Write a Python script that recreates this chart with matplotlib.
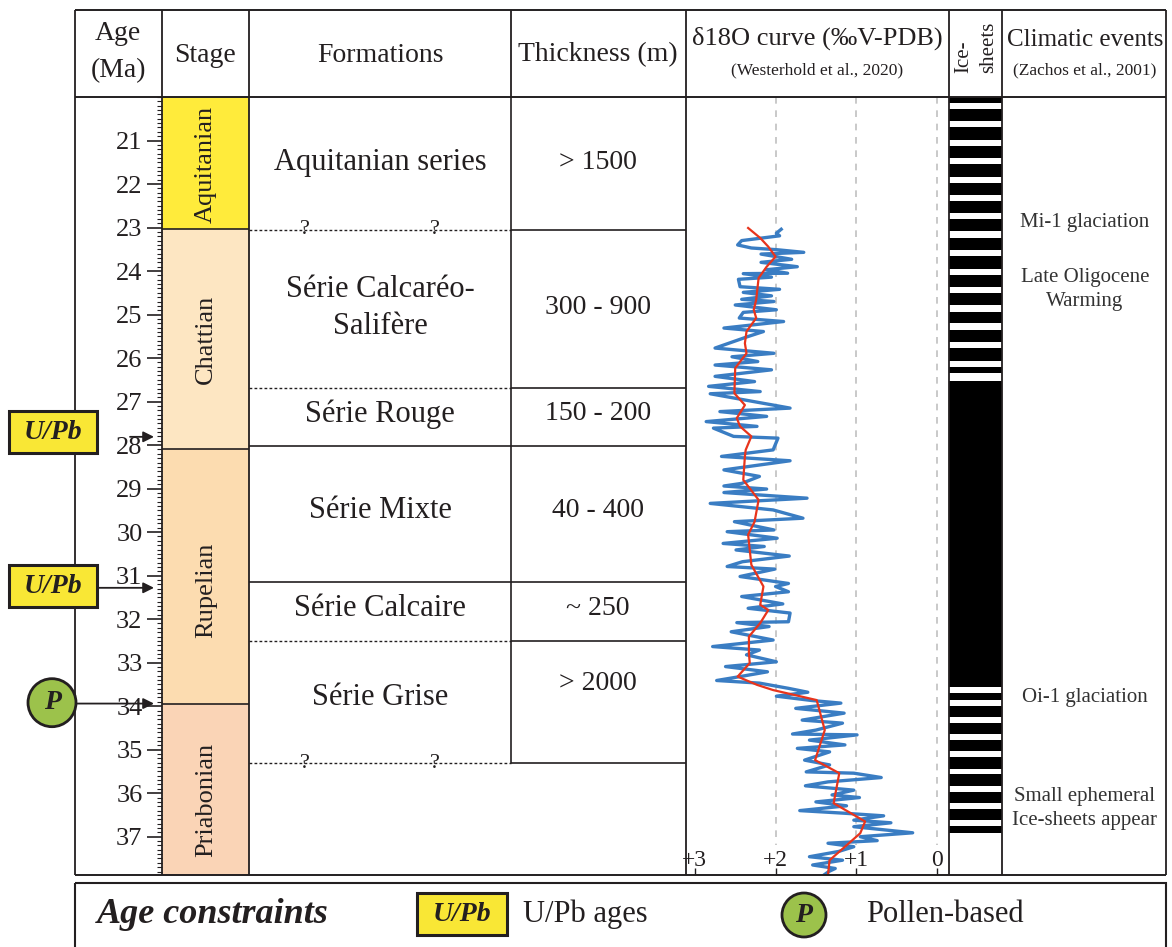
import matplotlib
matplotlib.use('Agg')
import matplotlib.pyplot as plt
from matplotlib.patches import Rectangle, Circle
from matplotlib.ticker import MultipleLocator

plt.rcParams['font.family'] = ['Liberation Serif', 'DejaVu Serif']
INK = '#231f20'

# ---- data -------------------------------------------------------------
stage_names = ['Aquitanian', 'Chattian', 'Rupelian', 'Priabonian']
stage_top = [20.0, 23.03, 28.1, 33.95]
stage_base = [23.03, 28.1, 33.95, 37.88]
stage_label_age = [21.55, 25.58, 31.33, 36.16]
stage_colors = ['#ffeb3b', '#fde6c2', '#fcdcb0', '#fad4b6']

formation_names = ['Aquitanian series', 'Série Calcaréo-\nSalifère', 'Série Rouge',
                   'Série Mixte', 'Série Calcaire', 'Série Grise']
formation_label_age = [21.51, 24.85, 27.28, 29.51, 31.76, 33.81]
thickness = ['> 1500', '300 - 900', '150 - 200', '40 - 400', '~ 250', '> 2000']
thickness_label_age = [21.51, 24.83, 27.28, 29.51, 31.76, 33.47]
formation_bounds = [23.05, 26.69, 28.03, 31.14, 32.50, 35.31]
bound_certain = [False, False, True, True, False, False]
uncertain_bounds = [23.05, 35.31]

age_ticks = list(range(21, 38))

# d18O, Westerhold et al. 2020
d18o_age = [23.04, 23.13, 23.19, 23.30, 23.40, 23.47, 23.51, 23.57, 23.61, 23.73,
            23.80, 23.90, 23.97, 24.05, 24.06, 24.14, 24.19, 24.36, 24.42, 24.49,
            24.57, 24.65, 24.70, 24.78, 24.89, 24.95, 25.08, 25.16, 25.31, 25.39,
            25.51, 25.77, 25.89, 25.97, 26.08, 26.16, 26.27, 26.42, 26.54, 26.65,
            26.77, 26.82, 27.15, 27.23, 27.34, 27.46, 27.57, 27.61, 27.80, 27.84,
            28.11, 28.26, 28.36, 28.57, 28.72, 28.88, 28.94, 29.01, 29.09, 29.22,
            29.34, 29.49, 29.68, 29.76, 29.95, 29.99, 30.14, 30.26, 30.33, 30.41,
            30.55, 30.68, 30.79, 30.85, 31.02, 31.18, 31.25, 31.37, 31.48, 31.65,
            31.75, 31.86, 32.06, 32.08, 32.17, 32.29, 32.48, 32.63, 32.71, 32.82,
            32.98, 33.09, 33.21, 33.32, 33.41, 33.47, 33.59, 33.68, 33.77, 33.87,
            33.93, 34.05, 34.16, 34.32, 34.39, 34.55, 34.64, 34.66, 34.78, 34.89,
            34.97, 35.05, 35.24, 35.35, 35.51, 35.54, 35.64, 35.74, 35.83, 35.93,
            36.04, 36.10, 36.20, 36.29, 36.40, 36.46, 36.52, 36.62, 36.68, 36.77,
            36.91, 37.00, 37.09, 37.15, 37.23, 37.34, 37.46, 37.54, 37.65, 37.73,
            37.80, 37.88]
d18o_val = [1.93, 1.99, 1.95, 2.42, 2.47, 2.30, 1.98, 1.65, 2.18, 1.80,
            2.18, 1.73, 2.12, 1.85, 2.40, 2.05, 2.46, 2.44, 1.95, 2.40,
            2.05, 2.42, 2.02, 2.50, 1.99, 2.40, 2.45, 1.90, 2.64, 2.15,
            2.35, 2.75, 2.02, 2.54, 2.22, 2.75, 2.05, 2.75, 2.26, 2.83,
            2.19, 2.81, 1.82, 2.69, 2.11, 2.86, 2.23, 2.77, 2.52, 1.97,
            2.03, 2.67, 1.82, 2.64, 2.20, 2.42, 2.64, 2.11, 2.64, 1.61,
            2.81, 2.03, 1.66, 2.51, 2.02, 2.60, 1.98, 2.65, 2.14, 2.49,
            1.83, 2.41, 2.60, 2.01, 2.44, 1.84, 2.00, 1.84, 2.42, 1.91,
            2.34, 1.82, 1.84, 2.48, 2.08, 2.55, 2.03, 2.78, 2.20, 2.36,
            1.99, 2.62, 2.10, 2.44, 2.73, 2.20, 1.84, 1.60, 1.99, 1.55,
            1.19, 1.75, 1.15, 1.67, 1.17, 1.50, 1.79, 0.99, 1.58, 1.14,
            1.73, 1.33, 1.64, 1.33, 1.62, 1.03, 0.69, 1.35, 1.63, 1.03,
            1.30, 0.96, 1.50, 1.12, 1.70, 1.15, 0.66, 1.03, 0.57, 1.03,
            0.30, 0.95, 0.74, 1.35, 1.03, 1.22, 1.58, 1.17, 1.54, 1.26,
            1.34, 1.40]

smooth_age = [23.01, 23.24, 23.44, 23.67, 23.90, 24.16, 24.66, 24.89, 25.08, 25.39,
              25.66, 25.89, 26.23, 26.81, 27.08, 27.38, 27.57, 27.80, 28.11, 28.26,
              28.80, 29.26, 29.76, 30.06, 30.75, 31.25, 31.67, 31.79, 32.09, 32.40,
              32.78, 33.01, 33.32, 33.51, 33.63, 33.86, 34.55, 35.24, 35.54, 36.23,
              36.65, 36.92, 37.54, 37.88]
smooth_val = [2.34, 2.19, 2.09, 2.00, 2.11, 2.21, 2.24, 2.27, 2.24, 2.36,
              2.38, 2.36, 2.50, 2.51, 2.38, 2.48, 2.44, 2.30, 2.37, 2.38,
              2.40, 2.21, 2.26, 2.34, 2.30, 2.15, 2.19, 2.09, 2.19, 2.33,
              2.33, 2.32, 2.47, 2.23, 2.03, 1.49, 1.39, 1.51, 1.21, 1.28,
              0.89, 0.95, 1.33, 1.35]

d18o_ticks = [3, 2, 1, 0]
d18o_tick_labels = ['+3', '+2', '+1', '0']

# ice-sheet intervals (Ma)
ice_top = [20.00, 20.28, 20.70, 21.12, 21.54, 21.97, 22.39, 22.81, 23.23, 23.65,
           24.09, 24.51, 24.93, 25.35, 25.77, 26.20, 26.52, 33.70, 33.99, 34.38,
           34.78, 35.17, 35.57, 35.97, 36.37, 36.75]
ice_base = [20.13, 20.56, 20.98, 21.40, 21.83, 22.25, 22.67, 23.09, 23.51, 23.95,
            24.37, 24.79, 25.20, 25.63, 26.06, 26.35, 33.57, 33.86, 34.24, 34.64,
            35.02, 35.44, 35.83, 36.23, 36.61, 36.91]

events = ['Mi-1 glaciation', 'Late Oligocene\nWarming', 'Oi-1 glaciation',
          'Small ephemeral\nIce-sheets appear']
event_age = [22.89, 24.43, 33.81, 36.36]

constraint_kind = ['U/Pb', 'U/Pb', 'P']
constraint_age = [27.81, 31.28, 33.94]
constraint_box_age = [27.70, 31.24, 33.92]
constraint_arrow_from = [130, 97, 76]

# ---- layout -----------------------------------------------------------
W, H = 1172, 947
TOP, Y0, Y1 = 10, 97, 875
AGE_TOP, AGE_BOT = 20.0, 37.88
YELLOW = '#f9e735'
GREEN = '#9cc24b'


def box(x0, y0, x1, y1):
    return [x0 / W, 1 - y1 / H, (x1 - x0) / W, (y1 - y0) / H]


def age_px(a):
    return Y0 + (a - AGE_TOP) / (AGE_BOT - AGE_TOP) * (Y1 - Y0)


fig = plt.figure(figsize=(W / 100, H / 100), dpi=100)
fig.patch.set_facecolor('white')

# body: x in pixels, y in Ma
body = fig.add_axes(box(75, Y0, 1166, Y1))
body.set_xlim(75, 1166)
body.set_ylim(AGE_BOT, AGE_TOP)
body.axis('off')

for name, a0, a1, la, c in zip(stage_names, stage_top, stage_base, stage_label_age, stage_colors):
    body.fill_between([162, 249], a0, a1, color=c, lw=0)
    body.text(206, la, name, rotation=90, ha='center', va='center', fontsize=19, color=INK)
body.hlines(stage_top[1:], 162, 249, color=INK, lw=1.2)

for a, sure in zip(formation_bounds, bound_certain):
    if sure:
        body.hlines(a, 249, 511, color=INK, lw=1.2)
    else:
        body.hlines(a, 249, 511, color=INK, lw=1.0, linestyles=(0, (2, 1.6)))
body.hlines(formation_bounds, 511, 686, color=INK, lw=1.2)
body.vlines(511, AGE_TOP, formation_bounds[-1], color=INK, lw=1.2)
for a in uncertain_bounds:
    for x in (305, 435):
        body.text(x, a, '?', ha='center', va='center', fontsize=16, color=INK)

for name, a in zip(formation_names, formation_label_age):
    body.text(380, a, name, ha='center', va='center', fontsize=22, color=INK, linespacing=1.4)
for t, a in zip(thickness, thickness_label_age):
    body.text(598, a, t, ha='center', va='center', fontsize=20, color=INK)

body.bar(975.5, [b - t for t, b in zip(ice_top, ice_base)], bottom=ice_top, width=53,
         color='black', lw=0)

for ev, a in zip(events, event_age):
    body.text(1085, a, ev, ha='center', va='center', fontsize=15, color='#333333',
              linespacing=1.35)

# age ticks on the left edge of the stage column
ax_age = fig.add_axes(box(162, Y0, 249, Y1))
ax_age.patch.set_visible(False)
ax_age.set_ylim(AGE_BOT, AGE_TOP)
ax_age.set_xticks([])
for s in ax_age.spines.values():
    s.set_visible(False)
ax_age.set_yticks(age_ticks)
ax_age.yaxis.set_minor_locator(MultipleLocator(0.1))
ax_age.tick_params(axis='y', which='major', direction='out', length=11, width=1.2,
                   labelsize=19, pad=3, colors=INK)
ax_age.tick_params(axis='y', which='minor', direction='out', length=3.5, width=0.8, colors=INK)

# d18O curve
ax_d = fig.add_axes(box(686, Y0, 949, Y1))
ax_d.patch.set_visible(False)
ax_d.set_xlim(3.11, -0.15)
ax_d.set_ylim(AGE_BOT, AGE_TOP)
for s in ax_d.spines.values():
    s.set_visible(False)
ax_d.vlines(d18o_ticks[1:], AGE_TOP, 37.2, colors='#c0c0c0', linestyles=(0, (4, 4)), lw=1.2)
for v, lab in zip(d18o_ticks, d18o_tick_labels):
    ax_d.text(v, 37.54, lab, ha='center', va='center', fontsize=17, color=INK, zorder=1)
ax_d.plot(d18o_val, d18o_age, color='#3a7dc3', lw=2.4, zorder=3)
ax_d.plot(smooth_val, smooth_age, color='#e8341c', lw=1.6, zorder=4)
ax_d.set_xticks(d18o_ticks)
ax_d.set_xticklabels([])
ax_d.set_yticks([])
ax_d.tick_params(axis='x', direction='in', length=5, width=1, colors=INK)

# overlay in pixels: frame, header, markers, legend
bg = fig.add_axes([0, 0, 1, 1], zorder=10)
bg.patch.set_visible(False)
bg.set_xlim(0, W)
bg.set_ylim(H, 0)
bg.axis('off')

bg.hlines([TOP, Y0, Y1], 75, 1166, color=INK, lw=1.4)
bg.vlines([75, 162, 249, 686, 949, 1002, 1166], TOP, Y1, color=INK, lw=1.3)
bg.vlines(511, TOP, Y0, color=INK, lw=1.3)

bg.text(118, 52, 'Age\n(Ma)', ha='center', va='center', fontsize=20, color=INK, linespacing=1.6)
bg.text(205, 55, 'Stage', ha='center', va='center', fontsize=20, color=INK)
bg.text(380, 55, 'Formations', ha='center', va='center', fontsize=20, color=INK)
bg.text(598, 55, 'Thickness (m)', ha='center', va='center', fontsize=20, color=INK)
bg.text(817, 38, 'δ18O curve (‰V-PDB)', ha='center', va='center', fontsize=19, color=INK)
bg.text(817, 70, '(Westerhold et al., 2020)', ha='center', va='center', fontsize=12.5, color=INK)
bg.text(976, 73, 'Ice-\nsheets', rotation=90, ha='center', va='bottom', fontsize=15,
        color=INK, multialignment='left', linespacing=1.45)
bg.text(1085, 40, 'Climatic events', ha='center', va='center', fontsize=18, color=INK)
bg.text(1085, 70, '(Zachos et al., 2001)', ha='center', va='center', fontsize=12.5, color=INK)

for kind, a, ab, x0 in zip(constraint_kind, constraint_age, constraint_box_age, constraint_arrow_from):
    yb = age_px(ab)
    if kind == 'P':
        bg.add_patch(Circle((52, yb), 24, fc=GREEN, ec=INK, lw=2, zorder=12))
    else:
        bg.add_patch(Rectangle((9, yb - 21), 88, 42, fc=YELLOW, ec=INK, lw=2.2, zorder=12))
    bg.text(53, yb, kind, ha='center', va='center', fontsize=20, weight='bold',
            style='italic', color=INK, zorder=13)
    ya = age_px(a)
    bg.annotate('', xy=(154, ya), xytext=(x0, ya),
                arrowprops=dict(arrowstyle='-|>', color=INK, lw=1.3, mutation_scale=16,
                                shrinkA=0, shrinkB=0),
                zorder=11)

# legend
bg.add_patch(Rectangle((75, 883), 1091, 80, fill=False, ec=INK, lw=1.5, clip_on=False))
bg.text(97, 914, 'Age constraints', ha='left', va='center', fontsize=26, weight='bold',
        style='italic', color=INK)
bg.add_patch(Rectangle((417, 893), 90, 42, fc=YELLOW, ec=INK, lw=2.2))
bg.text(462, 914, 'U/Pb', ha='center', va='center', fontsize=20, weight='bold',
        style='italic', color=INK)
bg.text(523, 914, 'U/Pb ages', ha='left', va='center', fontsize=22, color=INK)
bg.add_patch(Circle((804, 915), 22, fc=GREEN, ec=INK, lw=2))
bg.text(804, 915, 'P', ha='center', va='center', fontsize=20, weight='bold',
        style='italic', color=INK)
bg.text(866, 914, 'Pollen-based', ha='left', va='center', fontsize=22, color=INK)

fig.savefig('out.png', dpi=100, facecolor='white')
